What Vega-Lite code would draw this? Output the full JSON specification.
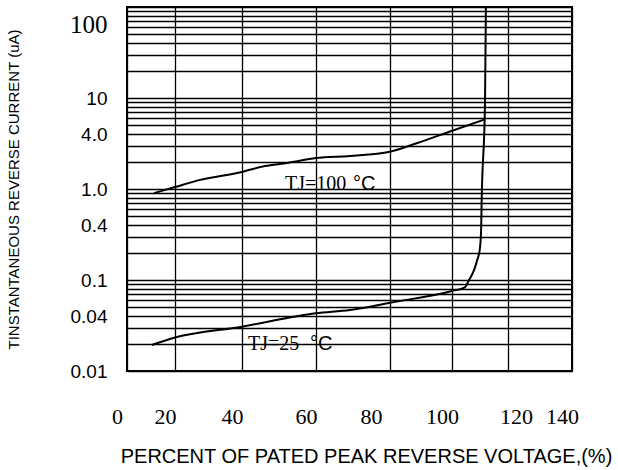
{
  "$schema": "https://vega.github.io/schema/vega-lite/v6.json",
  "width": 445,
  "height": 364,
  "autosize": {"type": "none"},
  "padding": {"left": 127, "top": 7, "right": 46, "bottom": 99},
  "background": "white",
  "config": {
    "view": {"stroke": "#000", "strokeWidth": 2},
    "axisX": {"labelFont": "Times New Roman, Liberation Serif, serif", "labelFontSize": 22, "labelFontWeight": "normal"},
    "axisY": {"labelFont": "Arial, Liberation Sans, sans-serif", "labelFontWeight": "normal"}
  },
  "datasets": {
    "curves": [
      {"series": "100", "pct": 11.25, "cur": 0.90},
      {"series": "100", "pct": 20, "cur": 1.05},
      {"series": "100", "pct": 27.5, "cur": 1.26},
      {"series": "100", "pct": 40, "cur": 1.54},
      {"series": "100", "pct": 46.2, "cur": 1.79},
      {"series": "100", "pct": 52.2, "cur": 1.93},
      {"series": "100", "pct": 60, "cur": 2.19},
      {"series": "100", "pct": 69.2, "cur": 2.31},
      {"series": "100", "pct": 80, "cur": 2.57},
      {"series": "100", "pct": 88.6, "cur": 3.18},
      {"series": "100", "pct": 100.1, "cur": 4.37},
      {"series": "100", "pct": 111.8, "cur": 5.83},
      {"series": "25", "pct": 10.4, "cur": 0.0193},
      {"series": "25", "pct": 20, "cur": 0.0233},
      {"series": "25", "pct": 40, "cur": 0.0307},
      {"series": "25", "pct": 60, "cur": 0.0431},
      {"series": "25", "pct": 69.2, "cur": 0.0468},
      {"series": "25", "pct": 80, "cur": 0.0563},
      {"series": "25", "pct": 100, "cur": 0.0757},
      {"series": "25", "pct": 104.6, "cur": 0.0832},
      {"series": "25", "pct": 106.1, "cur": 0.1},
      {"series": "25", "pct": 107.9, "cur": 0.129},
      {"series": "25", "pct": 109.0, "cur": 0.166},
      {"series": "25", "pct": 109.9, "cur": 0.214},
      {"series": "25", "pct": 110.4, "cur": 0.354},
      {"series": "25", "pct": 110.6, "cur": 0.757},
      {"series": "25", "pct": 111.8, "cur": 9.5},
      {"series": "25", "pct": 112.1, "cur": 100}
    ],
    "tjLabels": [
      {"pct": 51.6, "cur": 0.975, "txt": "TJ=100"},
      {"pct": 41.6, "cur": 0.017, "txt": "TJ=25"}
    ],
    "unitLabels": [
      {"pct": 70, "cur": 0.975, "txt": "°C"},
      {"pct": 58.4, "cur": 0.017, "txt": "°C"}
    ]
  },
  "encoding": {
    "x": {
      "field": "pct",
      "type": "quantitative",
      "scale": {
        "type": "linear",
        "domain": [0, 20, 40, 60, 80, 100, 120, 140],
        "range": [0, 48, 115, 189, 263, 325, 381, 445],
        "nice": false,
        "zero": false
      },
      "axis": {
        "values": [0, 20, 40, 60, 80, 100, 120, 140],
        "title": "PERCENT OF PATED PEAK REVERSE VOLTAGE,(%)",
        "grid": true,
        "gridColor": "#000",
        "gridWidth": 1.3,
        "gridOpacity": 1,
        "domain": false,
        "ticks": false,
        "tickSize": 0,
        "labelColor": "#000",
        "labelBaseline": "alphabetic",
        "labelPadding": 52,
        "labelFlush": false,
        "labelOverlap": false,
        "labelOffset": {"condition": [{"test": "datum.value==80", "value": -19}, {"test": "datum.value==120", "value": 8}], "value": -10},
        "titleFont": "Liberation Sans",
        "titleFontSize": 20,
        "titleFontWeight": "normal",
        "titleColor": "#000",
        "titleX": 239,
        "titleY": 91,
        "titleBaseline": "alphabetic"
      }
    },
    "y": {
      "field": "cur",
      "type": "quantitative",
      "scale": {"type": "log", "domain": [0.01, 100], "nice": false},
      "axis": {
        "values": [0.01, 0.02, 0.03, 0.04, 0.05, 0.06, 0.07, 0.08, 0.09, 0.1, 0.2, 0.3, 0.4, 0.5, 0.6, 0.7, 0.8, 0.9, 1, 2, 3, 4, 5, 6, 7, 8, 9, 10, 20, 30, 40, 50, 60, 70, 80, 90, 100],
        "labelExpr": "datum.value==100?'100':datum.value==10?'10':datum.value==4?'4.0':datum.value==1?'1.0':datum.value==0.4?'0.4':datum.value==0.1?'0.1':datum.value==0.04?'0.04':datum.value==0.01?'0.01':''",
        "title": "TINSTANTANEOUS REVERSE CURRENT (uA)",
        "grid": true,
        "gridColor": "#000",
        "gridWidth": 1.3,
        "gridOpacity": 1,
        "domain": false,
        "ticks": false,
        "tickSize": 0,
        "labelColor": "#000",
        "labelFont": {"condition": {"test": "datum.value==100", "value": "Times New Roman, Liberation Serif, serif"}, "value": "Arial, Liberation Sans, sans-serif"},
        "labelFontSize": {"condition": {"test": "datum.value==100", "value": 25}, "value": 19},
        "labelOffset": {"condition": {"test": "datum.value==100", "value": 17}, "value": 0},
        "labelPadding": 20,
        "labelOverlap": false,
        "labelFlush": false,
        "titleFont": "Liberation Sans",
        "titleFontSize": 15,
        "titleFontWeight": "normal",
        "titleColor": "#000",
        "titlePadding": 48
      }
    }
  },
  "layer": [
    {
      "data": {"name": "curves"},
      "mark": {"type": "line", "color": "#000", "strokeWidth": 2, "interpolate": "monotone"},
      "encoding": {"detail": {"field": "series"}}
    },
    {
      "data": {"name": "tjLabels"},
      "mark": {"type": "text", "align": "left", "baseline": "alphabetic", "font": "Liberation Serif", "fontSize": 20, "color": "#000"},
      "encoding": {"text": {"field": "txt"}}
    },
    {
      "data": {"name": "unitLabels"},
      "mark": {"type": "text", "align": "left", "baseline": "alphabetic", "font": "Liberation Sans", "fontSize": 20, "color": "#000"},
      "encoding": {"text": {"field": "txt"}}
    }
  ]
}
